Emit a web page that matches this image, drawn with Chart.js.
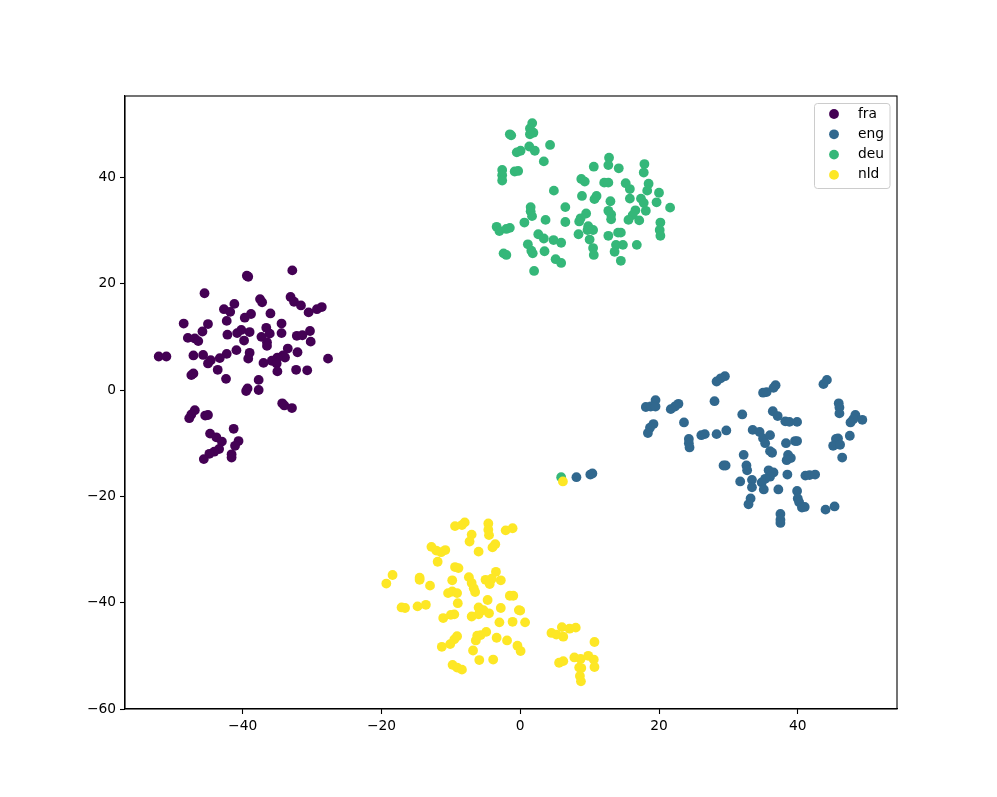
<!DOCTYPE html>
<html>
<head>
<meta charset="utf-8">
<title>Language clusters</title>
<script src="https://cdn.jsdelivr.net/npm/chart.js@4"></script>
<style>
  html, body { margin: 0; padding: 0; background: #fff; overflow: hidden; }
  canvas { display: block; }
</style>
</head>
<body>
<canvas id="chart" width="997" height="797"></canvas>
<script>
const languages = ['fra', 'eng', 'deu', 'nld'];
const colors = ['#440154', '#31688e', '#35b779', '#fde725'];
const xTicks = [-40, -20, 0, 20, 40];
const yTicks = [-60, -40, -20, 0, 20, 40];

const fra = [
  [-32.85,22.5],[-39.4,21.5],[-39.2,21.3],[-45.5,18.2],[-37.5,17.1],[-37.2,16.5],[-33.1,17.5],[-32.6,16.6],
  [-31.6,15.9],[-41.2,16.2],[-42.7,15.2],[-41.8,14.7],[-30.5,14.6],[-29.3,15.2],[-28.6,15.6],[-38.8,14.3],
  [-39.7,13.6],[-36.0,14.4],[-42.3,13.0],[-48.5,12.5],[-45.0,12.4],[-34.4,12.5],[-45.8,11.0],[-36.6,11.7],
  [-30.3,11.1],[-40.2,11.3],[-40.8,10.7],[-39.0,10.9],[-42.2,10.4],[-36.1,10.6],[-37.3,10.0],[-34.4,10.7],
  [-32.2,10.2],[-31.4,10.3],[-47.9,9.8],[-46.9,9.7],[-46.4,9.2],[-39.8,9.3],[-30.2,9.1],[-36.5,9.0],
  [-36.5,8.3],[-33.5,7.8],[-40.9,7.5],[-52.1,6.3],[-51.0,6.3],[-47.1,6.5],[-45.7,6.6],[-42.3,6.8],
  [-43.3,6.0],[-44.6,5.6],[-45.0,5.0],[-39.0,7.0],[-39.2,5.9],[-32.1,7.1],[-34.2,6.5],[-33.9,6.1],
  [-35.0,6.1],[-35.8,5.5],[-37.0,5.1],[-35.1,5.0],[-27.7,5.9],[-35.0,3.5],[-32.3,3.8],[-30.7,3.7],
  [-43.6,3.8],[-47.4,2.8],[-47.1,3.1],[-42.4,2.1],[-37.7,1.9],[-37.7,0],[-39.3,0.3],[-39.5,-0.2],
  [-34.3,-2.5],[-34.0,-2.9],[-32.9,-3.4],[-46.9,-3.8],[-47.4,-4.6],[-47.7,-5.3],[-45.4,-4.8],[-45.0,-4.7],
  [-41.3,-7.3],[-44.7,-8.2],[-43.8,-8.9],[-43.0,-9.7],[-40.6,-9.6],[-41.1,-10.5],[-43.4,-11.1],[-44.1,-11.6],
  [-44.8,-12.0],[-45.6,-13.0],[-41.6,-12.1],[-41.6,-12.7]
];

const eng = [
  [8.1,-16.4],[10.1,-15.9],[10.4,-15.7],[29.5,2.6],[28.9,2.2],[28.3,1.6],[36.8,0.9],[36.5,0.4],
  [35.5,-0.4],[35.0,-0.5],[44.2,1.9],[43.7,1.1],[19.5,-1.9],[18.1,-3.2],[18.8,-3.1],[19.5,-3.1],
  [22.8,-2.6],[22.3,-3.1],[21.7,-3.6],[28.0,-2.1],[45.9,-2.5],[46.0,-3.3],[46.0,-4.4],[36.4,-4.0],
  [37.1,-4.9],[32.0,-4.6],[38.2,-5.9],[38.8,-6.0],[39.9,-6.0],[48.3,-4.7],[49.3,-5.6],[48.0,-5.5],
  [47.6,-6.1],[19.2,-6.4],[18.7,-7.1],[18.4,-8.1],[23.6,-6.1],[33.5,-7.5],[34.5,-7.9],[35.0,-9.1],
  [35.3,-10.0],[36.0,-8.5],[26.6,-8.3],[26.1,-8.5],[28.3,-8.3],[29.7,-7.6],[24.3,-9.2],[24.3,-10.0],
  [24.4,-10.8],[38.3,-10.0],[39.6,-9.6],[39.9,-9.6],[47.5,-8.6],[45.8,-9.1],[45.5,-9.2],[45.1,-10.5],
  [46.1,-10.3],[36.0,-11.5],[36.3,-11.8],[32.2,-12.2],[38.6,-12.2],[39.0,-12.8],[38.4,-13.2],[46.4,-12.7],
  [29.6,-14.2],[29.3,-14.2],[32.6,-14.2],[32.7,-15.1],[35.8,-15.1],[36.5,-15.5],[36.0,-16.3],[35.3,-16.7],
  [34.8,-17.4],[38.5,-15.9],[41.1,-16.1],[41.7,-16.0],[42.5,-15.9],[33.4,-16.9],[33.4,-18.3],[31.7,-17.2],
  [35.1,-18.7],[37.2,-18.7],[39.9,-19.0],[40.0,-20.4],[40.2,-21.1],[40.6,-22.1],[41.0,-22.0],[33.2,-20.4],
  [32.9,-21.5],[45.3,-21.9],[44.0,-22.5],[37.5,-23.3],[37.5,-24.4],[37.5,-25.0]
];

const deu = [
  [5.9,-16.4],[1.73,50.2],[1.4,49.2],[1.9,48.4],[1.4,48.1],[-1.5,48.1],[-1.3,47.9],[4.3,46.1],
  [1.3,45.8],[2.1,45.0],[0.05,45.0],[-0.5,44.7],[3.4,43.0],[12.8,43.7],[12.7,42.3],[10.6,42.0],
  [14.2,41.7],[17.9,42.5],[17.8,40.9],[-2.6,41.4],[-2.6,40.4],[-2.6,39.4],[-0.8,41.1],[-0.3,41.2],
  [8.8,39.7],[9.3,39.2],[4.85,37.5],[12.1,39.0],[12.7,39.0],[15.2,38.9],[15.8,37.8],[18.5,38.8],
  [18.3,37.5],[20.0,37.1],[19.65,35.3],[8.9,36.5],[11.0,36.5],[10.7,35.9],[15.8,36.0],[17.4,36.0],
  [17.8,35.2],[18.1,33.7],[13.0,35.5],[21.6,34.3],[6.5,34.4],[1.5,34.4],[1.5,33.6],[1.7,32.7],
  [12.7,33.7],[13.1,33.0],[13.1,32.1],[16.6,33.8],[16.2,32.9],[15.6,32.0],[17.15,31.9],[9.5,33.2],
  [8.7,32.3],[8.5,31.7],[3.65,32.0],[6.5,31.6],[0.6,31.5],[20.2,31.5],[20.1,30.1],[20.2,29.0],
  [-3.4,30.7],[-3.0,29.9],[-1.5,30.5],[-2.0,30.3],[9.8,30.8],[10.5,30.1],[9.7,30.1],[8.4,29.3],
  [2.6,29.3],[3.4,28.5],[4.8,28.2],[5.9,27.7],[14.1,29.6],[14.5,29.6],[12.7,29.0],[10.0,28.3],
  [1.1,27.4],[14.8,27.3],[13.8,27.3],[16.8,27.3],[1.6,26.2],[1.8,25.7],[3.5,26.1],[10.5,26.7],
  [10.6,25.4],[13.6,26.0],[-2.4,25.7],[-2.0,25.4],[5.1,24.6],[5.9,23.9],[14.5,24.3],[2.0,22.4]
];

const nld = [
  [6.15,-17.2],[-8.0,-24.9],[-8.4,-25.4],[-9.4,-25.6],[-4.6,-25.1],[-4.6,-26.3],[-4.5,-27.3],[-1.1,-26.0],
  [-2.1,-26.4],[-7.0,-27.2],[-7.3,-28.5],[-3.6,-29.0],[-4.0,-29.6],[-12.8,-29.5],[-12.1,-30.2],[-11.4,-30.5],
  [-10.8,-30.1],[-6.0,-30.4],[-11.9,-32.3],[-9.4,-33.3],[-8.9,-33.5],[-3.5,-34.2],[-18.4,-34.8],[-19.3,-36.4],
  [-14.5,-35.3],[-14.5,-35.7],[-7.4,-35.2],[-7.0,-36.3],[-6.7,-37.3],[-6.5,-38.0],[-5.0,-35.7],[-4.1,-35.5],
  [-4.4,-36.5],[-2.8,-35.8],[-13.0,-36.8],[-9.8,-35.8],[-10.4,-38.2],[-9.8,-37.9],[-9.1,-38.2],[-1.5,-38.7],
  [-1.0,-38.7],[-4.7,-39.5],[-9.0,-40.1],[-17.1,-40.9],[-16.6,-41.0],[-14.8,-40.7],[-13.6,-40.4],[-2.8,-41.0],
  [-6.0,-40.9],[-5.3,-41.4],[-0.2,-41.4],[0.0,-41.5],[-4.5,-42.0],[-6.0,-42.2],[-7.0,-42.6],[-9.5,-42.2],
  [-10.0,-42.3],[-11.1,-42.9],[-3.0,-43.7],[-1.1,-43.6],[0.7,-43.7],[-4.9,-45.5],[-5.7,-46.1],[-6.2,-46.2],
  [-6.4,-47.1],[-9.1,-46.3],[-9.5,-46.9],[-10.1,-47.8],[-11.3,-48.3],[-3.4,-46.6],[-1.9,-47.1],[-0.4,-48.1],
  [0.05,-49.1],[-6.8,-49.0],[-5.9,-50.8],[-3.9,-50.7],[-9.75,-51.7],[-9.1,-52.2],[-8.4,-52.6],[4.5,-45.7],
  [5.2,-46.0],[6.2,-46.4],[6.0,-44.6],[7.1,-44.9],[8.0,-44.7],[10.7,-47.4],[5.6,-51.3],[6.2,-51.0],
  [7.8,-50.3],[8.7,-50.6],[9.8,-50.0],[10.6,-50.7],[10.7,-52.1],[8.5,-52.2],[8.8,-52.3],[8.6,-53.8],
  [8.75,-54.8]
];

const seriesValues = [fra, eng, deu, nld];
const FONT = '"DejaVu Sans", sans-serif';
const pointRadius = 4.9;

const minusLabel = v => String(v).replace('-', '\u2212');

// top and right spines, scales only give us left and bottom
const frame = {
  id: 'frame',
  afterDatasetsDraw(chart) {
    const { ctx, chartArea: a } = chart;
    ctx.save();
    ctx.strokeStyle = '#000';
    ctx.lineWidth = 1.1;
    ctx.strokeRect(a.left, a.top, a.right - a.left, a.bottom - a.top);
    ctx.restore();
  }
};

// matplotlib style legend inside the axes
const innerLegend = {
  id: 'innerLegend',
  afterDraw(chart) {
    const { ctx } = chart;
    ctx.save();
    ctx.beginPath();
    ctx.roundRect(814.5, 103.5, 75.5, 85, 3);
    ctx.fillStyle = 'rgba(255,255,255,0.8)';
    ctx.fill();
    ctx.strokeStyle = '#cccccc';
    ctx.lineWidth = 1;
    ctx.stroke();
    ctx.font = '13.8px ' + FONT;
    ctx.textBaseline = 'middle';
    languages.forEach((name, i) => {
      const y = 114 + i * 20.3;
      ctx.beginPath();
      ctx.arc(834, y, pointRadius, 0, Math.PI * 2);
      ctx.fillStyle = colors[i];
      ctx.fill();
      ctx.fillStyle = '#000';
      ctx.fillText(name, 858, y);
    });
    ctx.restore();
  }
};

const axisCommon = {
  type: 'linear',
  border: { display: true, color: '#000', width: 1.1 },
  grid: { drawOnChartArea: false, drawTicks: true, tickLength: 5, tickColor: '#000', tickWidth: 1.1 },
  ticks: {
    color: '#000',
    font: { family: FONT, size: 13.8 },
    padding: 4,
    maxRotation: 0,
    autoSkip: false,
    includeBounds: false,
    callback: minusLabel
  }
};

new Chart(document.getElementById('chart'), {
  type: 'scatter',
  data: {
    datasets: languages.map((name, i) => ({
      label: name,
      data: seriesValues[i].map(p => ({ x: p[0], y: p[1] })),
      backgroundColor: colors[i],
      borderWidth: 0,
      pointRadius: pointRadius,
      pointHoverRadius: pointRadius,
      order: languages.length - i
    }))
  },
  options: {
    responsive: false,
    animation: false,
    layout: { padding: { top: 96, right: 100, left: 0, bottom: 0 } },
    plugins: { legend: { display: false }, tooltip: { enabled: false } },
    scales: {
      x: {
        ...axisCommon,
        min: -56.96,
        max: 54.3,
        afterBuildTicks: axis => { axis.ticks = xTicks.map(value => ({ value })); },
        afterFit: axis => { axis.height = 88; }
      },
      y: {
        ...axisCommon,
        min: -60,
        max: 55.3,
        afterBuildTicks: axis => { axis.ticks = yTicks.map(value => ({ value })); },
        afterFit: axis => { axis.width = 125; }
      }
    }
  },
  plugins: [frame, innerLegend]
});
</script>
</body>
</html>
